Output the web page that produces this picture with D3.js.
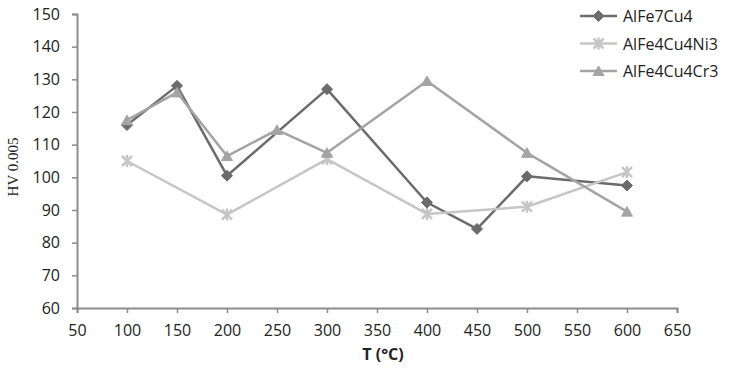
<!DOCTYPE html>
<html>
<head>
<meta charset="utf-8">
<script src="https://cdn.jsdelivr.net/npm/d3@7"></script>
<style>
  body { margin: 0; background: #fff; }
  text { font-family: "Open Sans", sans-serif; fill: #222; }
</style>
</head>
<body>
<div id="canvasRoot"></div>
<script>
// Data
const temps7 = [100, 150, 200, 300, 400, 450, 500, 600];
const alfe7cu4 = [116, 128, 100.5, 127, 92.3, 84.2, 100.3, 97.5];
const tempsNi = [100, 200, 300, 400, 500, 600];
const alfe4cu4ni3 = [105, 88.6, 105.6, 88.8, 91, 101.6];
const tempsCr = [100, 150, 200, 250, 300, 400, 500, 600];
const alfe4cu4cr3 = [117.5, 126, 106.5, 114.5, 107.5, 129.5, 107.5, 89.5];
const xTicks = d3.range(50, 651, 50);
const yTicks = d3.range(60, 151, 10);

const series = [
  { name: "AlFe7Cu4", xs: temps7, ys: alfe7cu4, color: "#6b6b6b", marker: "diamond" },
  { name: "AlFe4Cu4Ni3", xs: tempsNi, ys: alfe4cu4ni3, color: "#c6c6c6", marker: "star" },
  { name: "AlFe4Cu4Cr3", xs: tempsCr, ys: alfe4cu4cr3, color: "#a4a4a4", marker: "triangle" }
];

const W = 729, H = 370;
const margin = { top: 14, right: 52, bottom: 62, left: 77 };

const svg = d3.select("#canvasRoot").append("svg")
  .attr("width", W).attr("height", H);

const x = d3.scaleLinear().domain([50, 650]).range([margin.left, W - margin.right]);
const y = d3.scaleLinear().domain([60, 150]).range([H - margin.bottom, margin.top]);

//Axes
const axisColor = "#8c8c8c";
const gx = svg.append("g")
  .attr("transform", `translate(0,${H - margin.bottom})`)
  .call(d3.axisBottom(x).tickValues(xTicks).tickSize(5).tickPadding(12));
const gy = svg.append("g")
  .attr("transform", `translate(${margin.left},0)`)
  .call(d3.axisLeft(y).tickValues(yTicks).tickSize(5).tickPadding(12));
[gx, gy].forEach(g => {
  g.select(".domain").attr("stroke", axisColor).attr("stroke-width", 2);
  g.selectAll(".tick line").attr("stroke", axisColor).attr("stroke-width", 1.5);
  g.selectAll(".tick text")
    .attr("fill", "#222")
    .style("font-family", "'Open Sans', sans-serif")
    .style("font-size", "16px");
});

svg.append("text")
  .attr("x", 383).attr("y", 360)
  .attr("text-anchor", "middle")
  .style("font-size", "16px").style("font-weight", "bold")
  .text("T (°C)");

svg.append("text")
  .attr("transform", `translate(18,167) rotate(-90)`)
  .attr("text-anchor", "middle")
  .style("font-family", "'Liberation Serif', 'DejaVu Serif', serif")
  .style("font-size", "15px")
  .text("HV 0.005");

//Markers
function drawMarker(g, type, color) {
  if (type === "diamond") {
    g.append("path").attr("d", "M0,-5.5L5.5,0L0,5.5L-5.5,0Z")
      .attr("fill", color).attr("stroke", color).attr("stroke-width", 1);
  } else if (type === "triangle") {
    g.append("path").attr("d", "M0,-5L5.5,4.5L-5.5,4.5Z")
      .attr("fill", color).attr("stroke", color).attr("stroke-width", 1);
  } else {
    g.append("path").attr("d", "M-5,-5L5,5M-5,5L5,-5M0,-6L0,6")
      .attr("stroke", color).attr("stroke-width", 2.5).attr("fill", "none");
  }
}

const line = d3.line().x(d => x(d[0])).y(d => y(d[1]));

series.forEach(s => {
  const pts = s.xs.map((t, i) => [t, s.ys[i]]);
  const g = svg.append("g").attr("class", "series");
  g.append("path")
    .datum(pts)
    .attr("d", line)
    .attr("fill", "none")
    .attr("stroke", s.color)
    .attr("stroke-width", 2.5)
    .attr("stroke-linejoin", "round");
  g.selectAll("g.pt")
    .data(pts)
    .enter()
      .append("g")
      .classed("pt", true)
      .attr("transform", d => `translate(${x(d[0])},${y(d[1])})`)
      .each(function () { drawMarker(d3.select(this), s.marker, s.color); });
});

//Legend
const legend = svg.append("g").attr("transform", "translate(580,16)");
series.forEach((s, i) => {
  const row = legend.append("g").attr("transform", `translate(0,${i * 27.5})`);
  row.append("line").attr("x1", 0).attr("x2", 37)
    .attr("stroke", s.color).attr("stroke-width", 2.5);
  const m = row.append("g").attr("transform", "translate(18.5,0)");
  drawMarker(m, s.marker, s.color);
  row.append("text").attr("x", 43).attr("y", 6)
    .style("font-size", "16px")
    .text(s.name);
});
</script>
</body>
</html>
